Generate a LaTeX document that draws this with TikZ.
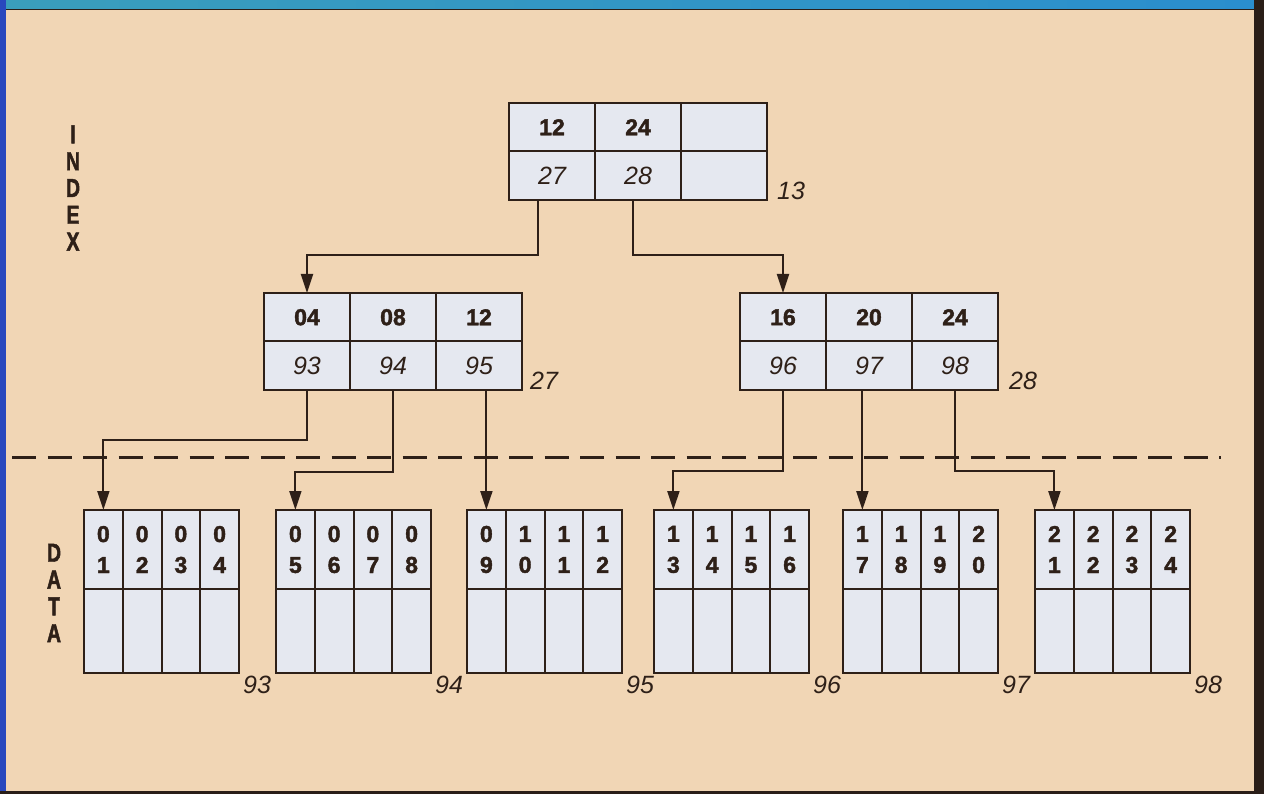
\documentclass[tikz,border=0pt]{standalone}
\usepackage{fontspec}
\setmainfont{Liberation Sans}
\newfontfamily\heavyfont[UprightFont={* Bold}, FakeBold=1.8]{Liberation Sans}
\newfontfamily\narrowfont[UprightFont={* Bold}, FakeBold=1.8, FakeStretch=0.75]{Liberation Sans}
\usetikzlibrary{arrows.meta, positioning}

\definecolor{paper}{RGB}{241,214,181}
\definecolor{cellfill}{RGB}{229,232,240}
\definecolor{ink}{RGB}{46,32,24}
\definecolor{barteal}{RGB}{58,158,188}
\definecolor{barblue}{RGB}{42,142,206}
\definecolor{edgeblue}{RGB}{40,72,190}
\definecolor{edgedark}{RGB}{42,30,24}

\begin{document}
\begin{tikzpicture}[x=1pt, y=-1pt, >=Stealth,
    key/.style={draw=ink, fill=cellfill, line width=2pt, inner sep=0pt, outer sep=0pt,
        minimum width=86pt, minimum height=48.5pt, text=ink,
        font=\heavyfont\fontsize{23}{25}\selectfont},
    ptr/.style={key, font=\fontsize{25}{27}\selectfont\itshape},
    dkey/.style={draw=ink, fill=cellfill, line width=2pt, inner sep=0pt, outer sep=0pt,
        minimum width=38.75pt, minimum height=79pt, align=center, text=ink,
        font=\heavyfont\fontsize{23}{31}\selectfont},
    dslot/.style={dkey, minimum height=84pt},
    pgno/.style={inner sep=0pt, text=ink, font=\fontsize{25}{27}\selectfont\itshape},
    side/.style={align=center, text=ink, font=\narrowfont\fontsize{26}{26.8}\selectfont},
    arr/.style={draw=ink, line width=2pt, -{Triangle[length=19pt,width=12pt]}}]

    % page and frame
    \fill[paper] (0,0) rectangle (1264,794);
    \useasboundingbox (0,0) rectangle (1264,794);
    \shade[left color=barteal, right color=barblue] (0,0) rectangle (1264,9);
    \fill[edgedark] (0,9) rectangle (1264,10.5);
    \fill[edgeblue] (0,0) rectangle (6,794);
    \fill[edgedark] (1254,0) rectangle (1264,794);
    \fill[edgedark] (0,791) rectangle (1264,794);

    % root index block
    \node[key] (tk1) at (552,127.25) {12};
    \node[key, right=0pt of tk1] (tk2) {24};
    \node[key, right=0pt of tk2] (tk3) {};
    \node[ptr, below=0pt of tk1] (tp1) {27};
    \node[ptr, below=0pt of tk2] (tp2) {28};
    \node[ptr, below=0pt of tk3] (tp3) {};
    \node[pgno, anchor=south west] (n13) at ([xshift=10pt]tp3.south east) {13};

    % second level
    \node[key] (lk1) at (307,317.25) {04};
    \node[key, right=0pt of lk1] (lk2) {08};
    \node[key, right=0pt of lk2] (lk3) {12};
    \node[ptr, below=0pt of lk1] (lp1) {93};
    \node[ptr, below=0pt of lk2] (lp2) {94};
    \node[ptr, below=0pt of lk3] (lp3) {95};
    \node[pgno, anchor=south west] (n27) at ([xshift=8pt]lp3.south east) {27};

    \node[key] (rk1) at (783,317.25) {16};
    \node[key, right=0pt of rk1] (rk2) {20};
    \node[key, right=0pt of rk2] (rk3) {24};
    \node[ptr, below=0pt of rk1] (rp1) {96};
    \node[ptr, below=0pt of rk2] (rp2) {97};
    \node[ptr, below=0pt of rk3] (rp3) {98};
    \node[pgno, anchor=south west] (n28) at ([xshift=11pt]rp3.south east) {28};

    % data pages
    \foreach \i/\bx in {0/84,1/276,2/467,3/654,4/843,5/1035} {
        \foreach \j in {1,...,4} {
            \pgfmathtruncatemacro\num{4*\i+\j}
            \pgfmathtruncatemacro\tens{div(\num,10)}
            \pgfmathtruncatemacro\ones{mod(\num,10)}
            \node[dkey] (d\i-\j) at ({\bx+38.75*\j-19.375},549.5) {\tens\\\ones};
            \node[dslot, below=0pt of d\i-\j] (s\i-\j) {};
        }
        \pgfmathtruncatemacro\pg{93+\i}
        \node[pgno, anchor=north west] (n\pg) at ([xshift=4pt,yshift=-3pt]s\i-4.south east) {\pg};
    }

    % side captions
    \node[side] (index) at (73,188) {I\\N\\D\\E\\X};
    \node[side] (data) at (54,593) {D\\A\\T\\A};

    % index / data boundary
    \coordinate (sepL) at (12,457.5);
    \coordinate (sepR) at (1221,457.5);
    \draw[ink, line width=2.6pt, dash pattern=on 24pt off 11.5pt] (sepL) -- (sepR);

    % pointers
    \draw[arr] ([xshift=-14pt]tp1.south) -- ++(0,55) -| (lk1.north);
    \draw[arr] ([xshift=-5pt]tp2.south) -- ++(0,55) -| (rk1.north);
    \draw[arr] (lp1.south) -- ++(0,50) -| (d0-1.north);
    \draw[arr] (lp2.south) -- ++(0,82) -| (d1-1.north);
    \draw[arr] (lp3.south -| d2-1.north) -- (d2-1.north);
    \draw[arr] (rp1.south) -- ++(0,81) -| (d3-1.north);
    \draw[arr] (rp2.south -| d4-1.north) -- (d4-1.north);
    \draw[arr] (rp3.south) -- ++(0,81) -| (d5-1.north);
\end{tikzpicture}
\end{document}
